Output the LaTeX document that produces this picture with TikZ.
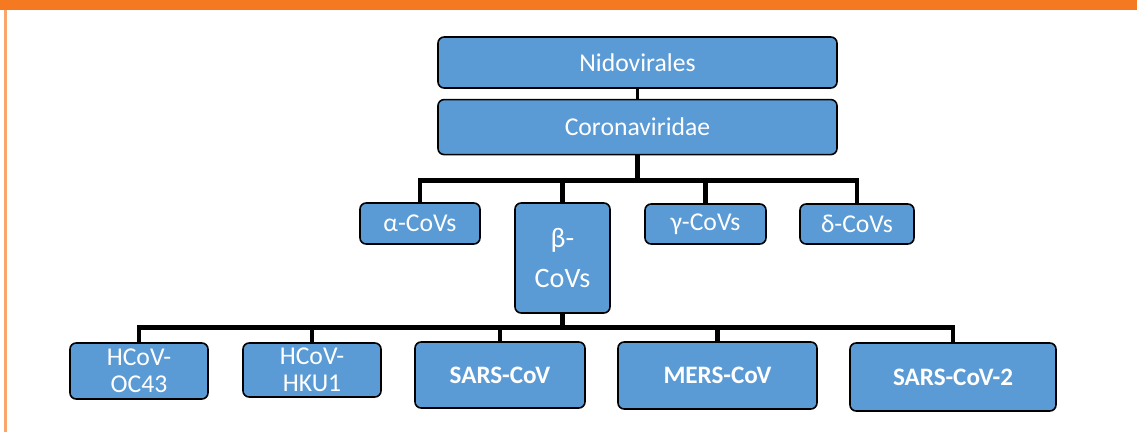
\documentclass[tikz,border=0pt]{standalone}
\usepackage{fontspec}
\setmainfont{Carlito}
\usetikzlibrary{positioning}
\definecolor{taxblue}{HTML}{5B9BD5}
\definecolor{bandorange}{HTML}{F47920}
\definecolor{edgeorange}{HTML}{F9A66C}
\tikzset{
    taxon/.style={
        rectangle, draw=black, line width=0.9pt, rounded corners=3.5pt,
        fill=taxblue, text=white, align=center, inner sep=1pt,
        font=\fontsize{14.6}{15.5}\selectfont
    },
    species/.style={taxon, font=\fontsize{14.3}{15}\selectfont\bfseries},
    link/.style={draw=black, line width=2.8pt}
}
\begin{document}
\begin{tikzpicture}

\useasboundingbox (0,0) rectangle (22.74,-8.64);

% Frame
\fill[bandorange] (0,0) rectangle (22.74,-0.2);
\draw[edgeorange, line width=1.2pt] (0.11,-0.2) -- (0.11,-8.64);

% Order and family
\node[taxon, minimum width=7.98cm, minimum height=1.02cm] (nido) at (12.75,-1.25) {Nidovirales};
\node[taxon, minimum width=7.98cm, minimum height=1.1cm, below=0.2cm of nido] (corona) {Coronaviridae};

% Genera
\node[taxon, minimum width=2.4cm, minimum height=0.82cm] (alpha) at (8.4,-4.47) {α-CoVs};
\node[taxon, minimum width=1.9cm, minimum height=2.2cm, font=\fontsize{16}{23}\selectfont] (beta) at (11.25,-5.16) {β-\\CoVs};
\node[taxon, minimum width=2.42cm, minimum height=0.8cm] (gamma) at (14.11,-4.48) {γ-CoVs};
\node[taxon, minimum width=2.28cm, minimum height=0.8cm] (delta) at (17.14,-4.48) {δ-CoVs};

% Human coronaviruses
\node[taxon, minimum width=2.76cm, minimum height=1.12cm] (oc43) at (2.78,-7.42) {HCoV-\\OC43};
\node[taxon, minimum width=2.76cm, minimum height=1.08cm] (hku1) at (6.24,-7.40) {HCoV-\\HKU1};
\node[species, minimum width=3.4cm, minimum height=1.32cm] (sars) at (10.0,-7.5) {SARS-CoV};
\node[species, minimum width=3.98cm, minimum height=1.34cm] (mers) at (14.35,-7.51) {MERS-CoV};
\node[species, minimum width=4.12cm, minimum height=1.36cm] (sars2) at (19.06,-7.54) {SARS-CoV-2};

% Tree lines
\draw[link, line width=2pt] (nido) -- (corona);
\foreach \g in {alpha,beta,gamma,delta}
    \draw[link] (corona.south) -- ++(0,-0.5) -| (\g.north);
\foreach \v in {oc43,hku1,sars,mers,sars2}
    \draw[link] (beta.south) -- ++(0,-0.28) -| (\v.north);

\end{tikzpicture}
\end{document}
